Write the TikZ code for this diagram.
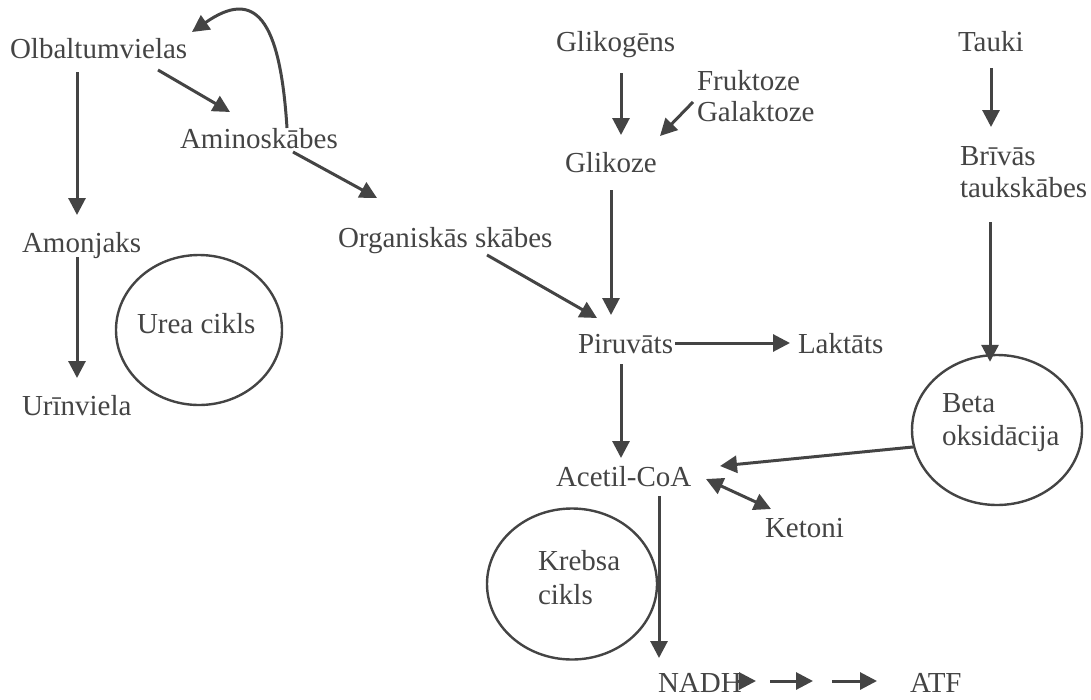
\documentclass[tikz,border=0pt]{standalone}
\usepackage{fontspec}
\setmainfont{Liberation Serif}
\usetikzlibrary{arrows.meta,shapes.geometric}
\definecolor{ink}{HTML}{444444}
\begin{document}
\begin{tikzpicture}[x=1pt,y=-1pt,
  lbl/.style={anchor=base west, inner sep=0pt, outer sep=0pt, text=ink,
              font=\fontsize{29}{33}\selectfont},
  arr/.style={draw=ink, line width=3pt, -{Triangle[length=17pt,width=17pt]}},
  darr/.style={draw=ink, line width=3pt,
               {Triangle[length=17pt,width=17pt]}-{Triangle[length=17pt,width=17pt]}},
  cyc/.style={draw=ink, line width=2.4pt, ellipse, inner sep=0pt},
]
\useasboundingbox (0,0) rectangle (1091,699);

% protein branch
\node[lbl] (olb)   at (10,58)   {Olbaltumvielas};
\node[lbl] (amino) at (180,148) {Aminoskābes};
\node[lbl] (amon)  at (22,252)  {Amonjaks};
\node[lbl] (urin)  at (22,415)  {Urīnviela};
\node[lbl] (org)   at (338,247) {Organiskās skābes};
\node[cyc, minimum width=166pt, minimum height=150pt] (ureac) at (199,330) {};
\node[lbl] (urea)  at (137,333) {Urea cikls};

% carbohydrate branch
\node[lbl] (glikog)  at (556,51)  {Glikogēns};
\node[lbl] (fruk)    at (697,90)  {Fruktoze};
\node[lbl] (gal)     at (697,121) {Galaktoze};
\node[lbl] (glikoze) at (565,172) {Glikoze};
\node[lbl] (piru)    at (578,353) {Piruvāts};
\node[lbl] (lakt)    at (798,353) {Laktāts};
\node[lbl] (acetil)  at (556,486) {Acetil-CoA};
\node[lbl] (ketoni)  at (765,537) {Ketoni};
\node[cyc, minimum width=170pt, minimum height=151pt] (krebsc) at (572,584) {};
\node[lbl] (krebsa)  at (538,570) {Krebsa};
\node[lbl] (kcikls)  at (538,604) {cikls};
\node[lbl] (nadh)    at (658,692) {NADH};
\node[lbl] (atf)     at (910,692) {ATF};

% fat branch
\node[lbl] (tauki)  at (958,51)  {Tauki};
\node[lbl] (brivas) at (960,165) {Brīvās};
\node[lbl] (tauks)  at (960,197) {taukskābes};
\node[cyc, minimum width=170pt, minimum height=150pt] (betac) at (997,430) {};
\node[lbl] (beta)   at (942,412) {Beta};
\node[lbl] (oksid)  at (942,445) {oksidācija};

% connectors
\draw[arr] ([shift={(67,14)}]olb.base west) -- ([shift={(55,-37)}]amon.base west);
\draw[arr] ([shift={(55,5)}]amon.base west) -- ([shift={(55,-37)}]urin.base west);
\draw[arr] ([shift={(148,12)}]olb.base west) -- ([shift={(50,-36)}]amino.base west);
\draw[arr] ([shift={(107,-20)}]amino.base west) .. controls (280,18) and (255,-12)
           .. ([shift={(182,-26)}]olb.base west);
\draw[arr] ([shift={(113,4)}]amino.base west) -- ([shift={(39,-49)}]org.base west);
\draw[arr] ([shift={(149,8)}]org.base west) -- ([shift={(19,-35)}]piru.base west);

\draw[arr] ([shift={(65,22)}]glikog.base west) -- ([shift={(56,-37)}]glikoze.base west);
\draw[arr] ([shift={(-4,-19)}]gal.base west) -- ([shift={(95,-36)}]glikoze.base west);
\draw[arr] ([shift={(46,18)}]glikoze.base west) -- ([shift={(33,-38)}]piru.base west);
\draw[arr] ([shift={(97,-10)}]piru.base west) -- ([shift={(-8,-10)}]lakt.base west);
\draw[arr] ([shift={(43,11)}]piru.base west) -- ([shift={(65,-28)}]acetil.base west);
\draw[arr] ([shift={(2,17)}]betac.west) -- ([shift={(164,-20)}]acetil.base west);
\draw[darr] ([shift={(150,-7)}]acetil.base west) -- ([shift={(6,-28)}]ketoni.base west);
\draw[arr] ([shift={(103,10)}]acetil.base west) -- ([shift={(1,-34)}]nadh.base west);

\draw[arr] ([shift={(33,17)}]tauki.base west) -- ([shift={(31,-38)}]brivas.base west);
\draw[arr] ([shift={(30,25)}]tauks.base west) -- ([shift={(-7,8)}]betac.north);

\draw[arr] ([shift={(80,-11)}]nadh.base west) -- ([shift={(98,-11)}]nadh.base west);
\draw[arr] ([shift={(112,-11)}]nadh.base west) -- ([shift={(-97,-11)}]atf.base west);
\draw[arr] ([shift={(-78,-11)}]atf.base west) -- ([shift={(-33,-11)}]atf.base west);
\end{tikzpicture}
\end{document}
